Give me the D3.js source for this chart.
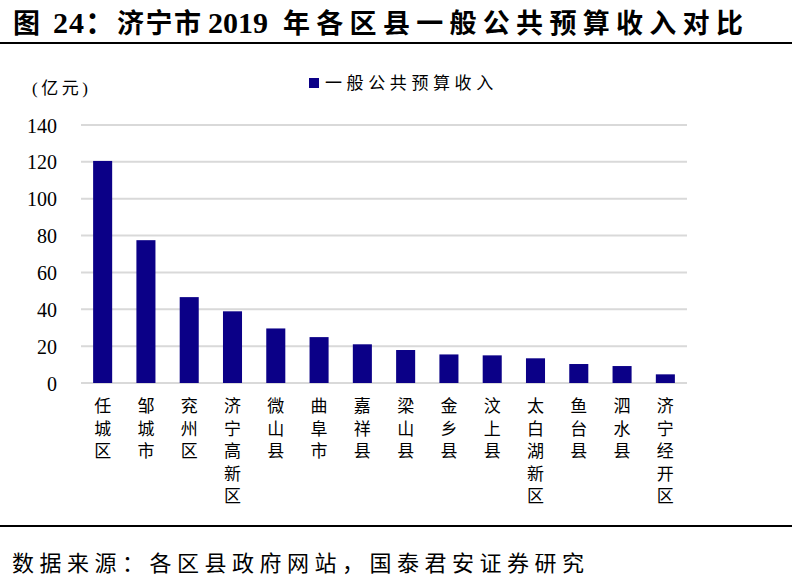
<!DOCTYPE html>
<html>
<head>
<meta charset="utf-8">
<script src="https://cdn.jsdelivr.net/npm/d3@7"></script>
<style>
  body { margin: 0; background: #fff; }
  svg text { font-family: "Liberation Serif", "Noto Sans CJK SC", serif; fill: #000; }
</style>
</head>
<body>
<div id="chart"></div>
<script>
const categories = ['任城区', '邹城市', '兖州区', '济宁高新区', '微山县', '曲阜市', '嘉祥县',
    '梁山县', '金乡县', '汶上县', '太白湖新区', '鱼台县', '泗水县', '济宁经开区'];
const revenue = [120.5, 77.5, 46.6, 38.9, 29.6, 24.9, 21.0, 17.9, 15.5, 15.0, 13.4, 10.3, 9.2, 4.7];
const yTicks = [0, 20, 40, 60, 80, 100, 120, 140];
const seriesName = '一般公共预算收入';
// title pieces: [text, x, letter-spacing]
const titleParts = [['图', 13, 0], ['24：', 53, 1], ['济宁市', 117, 1.5], ['2019', 208, 0], ['年各区县一般公共预算收入对比', 283, 6.3]];

const width = 792;
const height = 582;
const margin = { left: 81, right: 105, top: 125, bottom: 199 };

const svg = d3.select('#chart').append('svg')
    .attr('width', width)
    .attr('height', height);

// title + rules
svg.append('text')
    .attr('y', 33)
    .attr('font-size', 27)
    .attr('font-weight', 'bold')
    .selectAll('tspan')
    .data(titleParts)
    .join('tspan')
    .attr('x', d => d[1])
    .attr('letter-spacing', d => d[2])
    .attr('font-size', d => (/\d/.test(d[0]) ? 30 : 27))
    .text(d => d[0]);

svg.append('line')
    .attr('x1', 0).attr('x2', width)
    .attr('y1', 43).attr('y2', 43)
    .attr('stroke', '#000').attr('stroke-width', 2);

svg.append('line')
    .attr('x1', 0).attr('x2', width)
    .attr('y1', 526).attr('y2', 526)
    .attr('stroke', '#000').attr('stroke-width', 2);

svg.append('text')
    .attr('x', 12)
    .attr('y', 571)
    .attr('font-size', 22)
    .attr('letter-spacing', 5.5)
    .text('数据来源：各区县政府网站，国泰君安证券研究');

const x = d3.scaleBand()
    .domain(categories)
    .range([margin.left, width - margin.right])
    .paddingInner(0.56)
    .paddingOuter(0.28);

const y = d3.scaleLinear()
    .domain([0, 140])
    .range([height - margin.bottom, margin.top]);

// grid lines
svg.append('g')
    .selectAll('line')
    .data(yTicks)
    .join('line')
    .attr('x1', margin.left)
    .attr('x2', width - margin.right)
    .attr('y1', d => y(d))
    .attr('y2', d => y(d))
    .attr('stroke', '#d9d9d9')
    .attr('stroke-width', 2);

// y axis labels
const yAxis = svg.append('g')
    .attr('transform', `translate(${margin.left - 24},0)`)
    .call(d3.axisLeft(y).tickValues(yTicks).tickSize(0).tickPadding(0));
yAxis.select('.domain').remove();
yAxis.selectAll('text')
    .attr('font-size', 20)
    .attr('font-family', '"Liberation Serif", serif')
    .attr('dy', '0.35em');

svg.append('text')
    .attr('x', 32)
    .attr('y', 94)
    .attr('font-size', 17)
    .attr('letter-spacing', 3.5)
    .text('(亿元)');

// bars
svg.append('g')
    .selectAll('rect')
    .data(revenue)
    .join('rect')
    .attr('x', (d, i) => x(categories[i]))
    .attr('width', x.bandwidth())
    .attr('y', d => y(d))
    .attr('height', d => y(0) - y(d))
    .attr('fill', '#0b0087');

// vertical category labels
const labels = svg.append('g')
    .selectAll('text')
    .data(categories)
    .join('text')
    .attr('font-size', 17)
    .attr('text-anchor', 'middle');

labels.each(function (d) {
    const t = d3.select(this);
    const cx = x(d) + x.bandwidth() / 2;
    d.split('').forEach((ch, k) => {
        t.append('tspan')
            .attr('x', cx)
            .attr('y', y(0) + 29 + k * 22.5)
            .text(ch);
    });
});

// legend
const legend = svg.append('g');
legend.append('rect')
    .attr('x', 309).attr('y', 78)
    .attr('width', 10).attr('height', 10)
    .attr('fill', '#0b0087');
legend.append('text')
    .attr('x', 325).attr('y', 89)
    .attr('font-size', 17)
    .attr('letter-spacing', 4.6)
    .text(seriesName);
</script>
</body>
</html>
